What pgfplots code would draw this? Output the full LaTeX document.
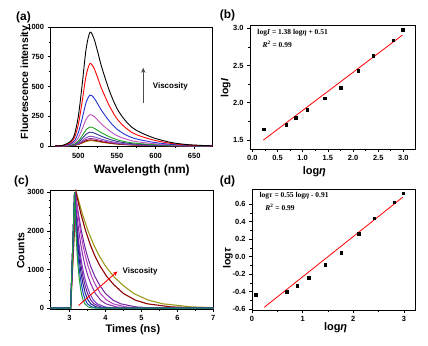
\documentclass[border=0pt]{standalone}
\usepackage{fontspec}
\setmainfont{Liberation Sans}
\newfontfamily\timesfont{Liberation Serif}
\usepackage{pgfplots}
\pgfplotsset{compat=1.18}
\usepackage{pgfplotstable}
\usetikzlibrary{arrows.meta}

\definecolor{cgreen}{HTML}{1A9A3A}
\definecolor{cblue}{HTML}{2040D0}
\definecolor{cnavy}{HTML}{202080}
\definecolor{cpurA}{HTML}{6A1AA0}
\definecolor{cviol}{HTML}{7A3AC8}
\definecolor{cpurB}{HTML}{8A2AA8}
\definecolor{cmag}{HTML}{B040B8}
\definecolor{cpurC}{HTML}{7020A0}
\definecolor{cdred}{HTML}{8B0000}
\definecolor{colive}{HTML}{9A9A1A}
\definecolor{sblue}{HTML}{2030D0}
\definecolor{smag}{HTML}{C050C0}
\definecolor{sgreen}{HTML}{20A020}
\definecolor{snavy}{HTML}{303090}
\definecolor{sviol}{HTML}{8050C0}
\definecolor{spur}{HTML}{A030A0}
\definecolor{sdred}{HTML}{900000}
\definecolor{solive}{HTML}{A08000}

\pgfplotstableread{
lam a b c d e f g h i j
470 0 0 0 0 0 0 0 0 0 0
480 4.8 3.5 2.1 1.3 0.8 0.6 0.4 0.3 0.3 0.2
490 38.2 27.7 17.1 10.5 6.3 4.6 3.2 2.5 2.0 1.8
495 95.5 69.2 42.7 26.3 15.8 11.5 8.1 6.3 5.1 4.4
500 248.3 179.9 111.0 68.4 41.1 29.9 21.1 16.4 13.3 11.4
505 515.7 373.7 230.6 142.0 85.3 62.1 43.7 34.0 27.5 23.8
510 811.8 588.2 363.0 223.6 134.3 97.8 68.9 53.6 43.4 37.4
515 955 692 427 263 158 115 81 63 51 44
520 907.3 657.4 405.7 249.9 150.1 109.3 77.0 59.9 48.5 41.8
525 792.7 574.4 354.4 218.3 131.1 95.5 67.2 52.3 42.3 36.5
530 668.5 484.4 298.9 184.1 110.6 80.5 56.7 44.1 35.7 30.8
540 468.0 339.1 209.2 128.9 77.4 56.4 39.7 30.9 25.0 21.6
550 315.2 228.4 140.9 86.8 52.1 38.0 26.7 20.8 16.8 14.5
560 219.7 159.2 98.2 60.5 36.3 26.5 18.6 14.5 11.7 10.1
570 152.8 110.7 68.3 42.1 25.3 18.4 13.0 10.1 8.2 7.0
580 114.6 83.0 51.2 31.6 19.0 13.8 9.7 7.6 6.1 5.3
590 86.0 62.3 38.4 23.7 14.2 10.4 7.3 5.7 4.6 4.0
600 62.1 45.0 27.8 17.1 10.3 7.5 5.3 4.1 3.3 2.9
620 28.7 20.8 12.8 7.9 4.7 3.5 2.4 1.9 1.5 1.3
640 11.5 8.3 5.1 3.2 1.9 1.4 1.0 0.8 0.6 0.5
660 3.8 2.8 1.7 1.1 0.6 0.5 0.3 0.3 0.2 0.2
673 1.0 0.7 0.4 0.3 0.2 0.1 0.1 0.1 0.1 0.0
}\spec

\pgfplotstableread{
x y
0.23 1.648
0.67 1.71
0.86 1.80
1.09 1.91
1.44 2.06
1.75 2.20
2.10 2.43
2.40 2.63
2.80 2.84
2.99 2.98
}\logI

\pgfplotstableread{
x y
0.07 -0.438
0.68 -0.40
0.89 -0.331
1.12 -0.24
1.45 -0.095
1.76 0.046
2.11 0.259
2.41 0.438
2.81 0.621
2.99 0.724
}\logtau

\pgfplotsset{
  panel/.style={
    scale only axis,
    axis line style={black, line width=0.8pt},
    tick align=outside,
    xtick pos=bottom, ytick pos=left,
    major tick length=3bp, minor tick length=1.8bp,
    every tick/.style={black, line width=0.7pt},
    tick label style={font=\bfseries\fontsize{7.5}{8}\selectfont},
    /pgf/number format/assume math mode=true,
    /pgf/number format/1000 sep={},
    label style={font=\bfseries\fontsize{10.5}{12}\selectfont},
    clip mode=individual,
  }
}

\begin{document}
\begin{tikzpicture}
\useasboundingbox (0,0) rectangle (428bp,346bp);

\node[font=\bfseries\fontsize{12}{14}\selectfont] at (23.5bp,329bp) {(a)};
\node[font=\bfseries\fontsize{12}{14}\selectfont] at (227.5bp,331bp) {(b)};
\node[font=\bfseries\fontsize{12}{14}\selectfont] at (21.5bp,165bp) {(c)};
\node[font=\bfseries\fontsize{12}{14}\selectfont] at (227.5bp,165bp) {(d)};

% (a)
\begin{axis}[panel, at={(50.5bp,319bp)}, anchor=north west,
  width=161.5bp, height=119.5bp,
  xmin=464, xmax=673, ymin=-5, ymax=1000,
  xtick={500,550,600,650}, minor x tick num=1,
  ytick={0,250,500,750,1000}, minor y tick num=1,
  xlabel={Wavelength (nm)}, ylabel={Fluorescence intensity},
  xlabel style={at={(axis description cs:0.565,-0.197)}, anchor=center, font=\bfseries\fontsize{12}{14}\selectfont},
  ylabel style={at={(axis description cs:-0.155,0.536)}, anchor=center},
]
\addplot[solive, line width=0.9pt, smooth] table[x=lam,y=j] {\spec};
\addplot[sdred, line width=0.9pt, smooth] table[x=lam,y=i] {\spec};
\addplot[spur, line width=0.9pt, smooth] table[x=lam,y=h] {\spec};
\addplot[sviol, line width=0.9pt, smooth] table[x=lam,y=g] {\spec};
\addplot[snavy, line width=0.9pt, smooth] table[x=lam,y=f] {\spec};
\addplot[sgreen, line width=0.9pt, smooth] table[x=lam,y=e] {\spec};
\addplot[smag, line width=0.9pt, smooth] table[x=lam,y=d] {\spec};
\addplot[sblue, line width=0.9pt, smooth] table[x=lam,y=c] {\spec};
\addplot[red, line width=0.9pt, smooth] table[x=lam,y=b] {\spec};
\addplot[black, line width=0.9pt, smooth] table[x=lam,y=a] {\spec};
\draw[-{Stealth[length=5bp,width=4.5bp]}, line width=1.4pt, black!70] (axis cs:584,362) -- (axis cs:584,657);
\node[anchor=west, font=\bfseries\fontsize{8}{9}\selectfont] at (axis cs:592,497) {Viscosity};
\end{axis}

% (b)
\begin{axis}[panel, at={(250bp,321bp)}, anchor=north west,
  width=165bp, height=124bp,
  xmin=-0.046, xmax=3.23, ymin=1.38, ymax=3.045,
  xtick={0,0.5,1,1.5,2,2.5,3}, minor x tick num=1,
  ytick={1.5,2,2.5,3}, minor y tick num=1,
  xticklabel style={/pgf/number format/.cd, fixed, fixed zerofill, precision=1},
  yticklabel style={/pgf/number format/.cd, fixed, fixed zerofill, precision=1},
  xlabel={log\itshape η}, ylabel={log\itshape I},
  xlabel style={at={(axis description cs:0.39,-0.183)}, anchor=center, font=\bfseries\fontsize{11}{13}\selectfont},
  ylabel style={at={(axis description cs:-0.147,0.49)}, anchor=center},
]
\addplot[red, line width=0.8pt] coordinates {(0.22,1.50) (2.98,2.91)};
\addplot[only marks, mark=square*, mark size=1.3pt, black] table[x=x,y=y] {\logI};
\node[anchor=west, font=\timesfont\bfseries\fontsize{7.5}{9}\selectfont] at (axis description cs:0.024,0.935) {log\textit{I} = 1.38 log\textit{η} + 0.51};
\node[anchor=west, font=\timesfont\bfseries\fontsize{7.5}{9}\selectfont] at (axis description cs:0.055,0.847) {\textit{R}\textsuperscript{2} = 0.99};
\end{axis}

% (c)
\begin{axis}[panel, at={(50.5bp,156bp)}, anchor=north west,
  width=162.8bp, height=119bp,
  xmin=2.47, xmax=7, ymin=-20, ymax=3060,
  xtick={3,4,5,6,7}, minor x tick num=1,
  ytick={0,1000,2000,3000}, minor y tick num=4,
  xlabel={Times (ns)}, ylabel={Counts},
  xlabel style={at={(axis description cs:0.506,-0.174)}, anchor=center, font=\bfseries\fontsize{11}{13}\selectfont},
  ylabel style={at={(axis description cs:-0.182,0.49)}, anchor=center},
]
\addplot[colive, line width=1.1pt] coordinates {(2.47,0) (3.03,0) (3.19,3000) (3.35,2456) (3.51,2011) (3.67,1646) (3.83,1348) (3.99,1104) (4.23,818) (4.47,606) (4.79,380) (5.19,210) (5.59,115) (6.39,35) (7.0,15)};
\addplot[cdred, line width=1.1pt] coordinates {(2.47,0) (3.03,0) (3.18,3000) (3.312,2456) (3.444,2011) (3.576,1646) (3.708,1348) (3.84,1104) (4.038,818) (4.236,606) (4.5,380) (4.83,210) (5.16,115) (5.82,35) (6.48,10) (7.0,0)};
\addplot[cpurC, line width=1pt] coordinates {(2.47,0) (3.03,0) (3.16,3000) (3.244,2456) (3.328,2011) (3.412,1646) (3.496,1348) (3.58,1104) (3.706,818) (3.832,606) (4.0,380) (4.21,210) (4.42,115) (4.84,35) (5.26,10) (6.1,0) (7,0)};
\addplot[cmag, line width=1pt] coordinates {(2.47,0) (3.03,0) (3.16,3000) (3.23,2456) (3.3,2011) (3.37,1646) (3.44,1348) (3.51,1104) (3.615,818) (3.72,606) (3.86,380) (4.035,210) (4.21,115) (4.56,35) (4.91,10) (5.61,0) (7,0)};
\addplot[cpurB, line width=1pt] coordinates {(2.47,0) (3.03,0) (3.14,3000) (3.198,2456) (3.256,2011) (3.314,1646) (3.372,1348) (3.43,1104) (3.517,818) (3.604,606) (3.72,380) (3.865,210) (4.01,115) (4.3,35) (4.59,10) (5.17,0) (7,0)};
\addplot[cviol, line width=1pt] coordinates {(2.47,0) (3.03,0) (3.14,3000) (3.182,2456) (3.224,2011) (3.266,1646) (3.308,1348) (3.35,1104) (3.413,818) (3.476,606) (3.56,380) (3.665,210) (3.77,115) (3.98,35) (4.19,10) (4.61,0) (7,0)};
\addplot[cpurA, line width=1pt] coordinates {(2.47,0) (3.03,0) (3.14,3000) (3.176,2456) (3.212,2011) (3.248,1646) (3.284,1348) (3.32,1104) (3.374,818) (3.428,606) (3.5,380) (3.59,210) (3.68,115) (3.86,35) (4.04,10) (4.4,0) (7,0)};
\addplot[cnavy, line width=1pt] coordinates {(2.47,0) (3.03,0) (3.14,3000) (3.17,2456) (3.2,2011) (3.23,1646) (3.26,1348) (3.29,1104) (3.335,818) (3.38,606) (3.44,380) (3.515,210) (3.59,115) (3.74,35) (3.89,10) (4.19,0) (7,0)};
\addplot[cblue, line width=1pt] coordinates {(2.47,0) (3.03,0) (3.14,3000) (3.164,2456) (3.188,2011) (3.212,1646) (3.236,1348) (3.26,1104) (3.296,818) (3.332,606) (3.38,380) (3.44,210) (3.5,115) (3.62,35) (3.74,10) (3.98,0) (7,0)};
\addplot[cgreen, line width=1pt] coordinates {(2.47,0) (3.03,0) (3.14,3000) (3.159,2456) (3.178,2011) (3.197,1646) (3.216,1348) (3.235,1104) (3.264,818) (3.292,606) (3.33,380) (3.378,210) (3.425,115) (3.52,35) (3.615,10) (3.805,0) (7,0)};
\draw[-{Stealth[length=4.5bp,width=4bp]}, line width=0.9pt, red] (axis cs:3.25,70) -- (axis cs:4.33,951);
\node[anchor=west, font=\bfseries\fontsize{8}{9}\selectfont] at (axis cs:4.38,960) {Viscosity};
\end{axis}

% (d)
\begin{axis}[panel, at={(252bp,157bp)}, anchor=north west,
  width=163bp, height=121bp,
  xmin=0, xmax=3.22, ymin=-0.61, ymax=0.773,
  xtick={0,1,2,3}, minor x tick num=1,
  ytick={-0.6,-0.4,-0.2,0,0.2,0.4,0.6}, minor y tick num=1,
  yticklabel style={/pgf/number format/.cd, fixed, fixed zerofill, precision=1},
  xlabel={log\itshape η}, ylabel={log\itshape τ},
  xlabel style={at={(axis description cs:0.513,-0.149)}, anchor=center, font=\bfseries\fontsize{11}{13}\selectfont},
  ylabel style={at={(axis description cs:-0.147,0.424)}, anchor=center},
]
\addplot[red, line width=0.8pt] coordinates {(0.24,-0.58) (2.98,0.68)};
\addplot[only marks, mark=square*, mark size=1.3pt, black] table[x=x,y=y] {\logtau};
\node[anchor=west, font=\timesfont\bfseries\fontsize{7.5}{9}\selectfont] at (axis description cs:0.025,0.942) {log\textit{τ} = 0.55 log\textit{η} - 0.91};
\node[anchor=west, font=\timesfont\bfseries\fontsize{7.5}{9}\selectfont] at (axis description cs:0.061,0.851) {\textit{R}\textsuperscript{2} = 0.99};
\end{axis}
\end{tikzpicture}
\end{document}
